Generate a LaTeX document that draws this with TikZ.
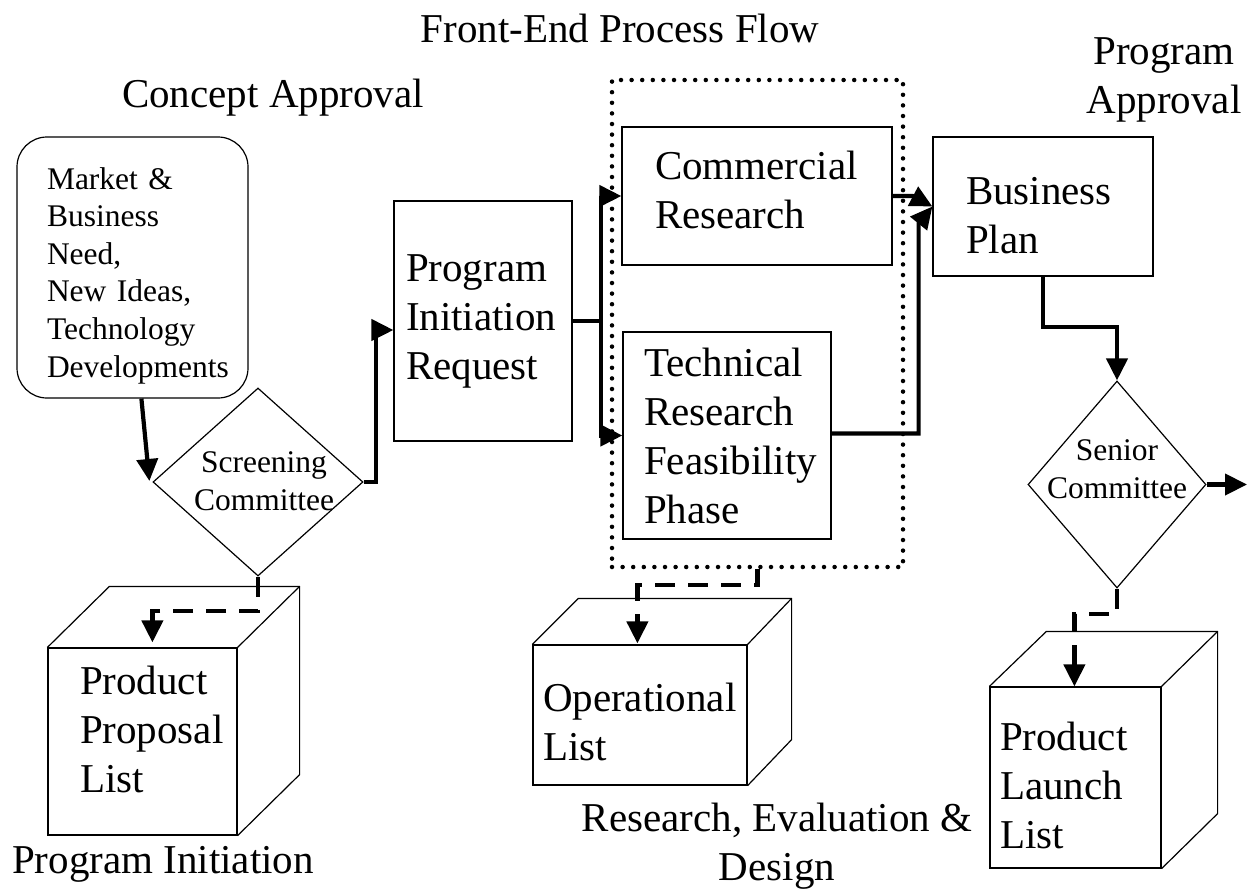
\documentclass[tikz,border=0pt]{standalone}
\usepackage{fontspec}
\setmainfont{Liberation Serif}
\usetikzlibrary{shapes.geometric,arrows.meta,calc}
\newcommand\bigf{\fontsize{41}{49}\selectfont}
\newcommand\smf{\fontsize{31.5}{37.6}\selectfont}
\newcommand\topst[1]{\rule{0pt}{#1pt}}
\newcommand\botst[1]{\rule[-#1pt]{0pt}{#1pt}}
\begin{document}
\begin{tikzpicture}[x=1pt,y=-1pt,
  box/.style={draw,line width=1.2pt,align=left,font=\bigf,inner ysep=0pt},
  dia/.style={draw,diamond,line width=1.2pt,inner sep=0pt},
  arr/.style={line width=4.2pt,-{Triangle[length=22pt,width=21pt]}},
  dasharr/.style={line width=4.2pt,dash pattern=on 20pt off 13pt,-{Triangle[length=22pt,width=21pt]}},
  plainline/.style={line width=4.2pt},
  edge/.style={line width=1.2pt,line join=round},
  lab/.style={font=\bigf,align=center},
  dottedbox/.style={draw,line width=4.5pt,line cap=round,dash pattern=on 0pt off 10.6pt,inner sep=0pt}]
\useasboundingbox (0,0) rectangle (1250,889);

% titles
\node[lab] (ttl) at (620,28) {Front-End Process Flow};
\node[lab] (ca) at (273,98) {Concept Approval};
\node[lab] (pa) at (1164,80) {Program\\Approval};
\node[lab] (pi) at (163,864) {Program Initiation};
\node[lab] (red) at (777,846) {Research, Evaluation \&\\Design};

% dotted group
\node[dottedbox,minimum width=291pt,minimum height=487pt] (grp) at (757.5,323.5) {};

% boxes
\node[box,rounded corners=30pt,font=\smf,minimum height=261pt,text width=171pt,inner xsep=30pt] (rb) at (132.5,267.5)
  {\topst{41}Market \&\\Business\\Need,\\New Ideas,\\Technology\\Developments\botst{10}};
\node[box,minimum height=240pt,text width=154pt,inner xsep=12pt] (pir) at (483,321)
  {Program\\Initiation\\Request};
\node[box,minimum height=138pt,text width=204pt,inner xsep=33pt] (com) at (757,196)
  {\topst{40}Commercial\\Research\botst{25}};
\node[box,minimum height=207pt,text width=166pt,inner xsep=21pt] (tec) at (727,435.5)
  {Technical\\Research\\Feasibility\\Phase};
\node[box,minimum height=139pt,text width=154pt,inner xsep=33pt] (bp) at (1043,206.5)
  {\topst{56}Business\\Plan\botst{12}};

% diamonds
\node[dia,minimum width=210pt,minimum height=188pt] (scr) at (258,482) {};
\node[font=\smf,align=center] (scrt) at (264,481) {Screening\\Committee};
\node[dia,minimum width=178pt,minimum height=207pt] (sen) at (1117,484.5) {};
\node[font=\smf,align=center] (sent) at (1117,469) {Senior\\Committee};

% cubes (front faces)
\node[box,minimum height=187pt,text width=125pt,inner xsep=32pt] (c1) at (142.5,741.5)
  {\topst{40}Product\\Proposal\\List\botst{36}};
\node[box,minimum height=140pt,text width=194pt,inner xsep=10pt] (c2) at (640,715)
  {\topst{54}Operational\\List\botst{12}};
\node[box,minimum height=181pt,text width=151pt,inner xsep=10pt] (c3) at (1075.5,777.5)
  {\topst{56}Product\\Launch\\List\botst{12}};

% cube tops and sides
\draw[edge] (c1.north west) -- ([shift={(62,-61)}]c1.north west) -- ([shift={(62,-61)}]c1.north east)
  -- ([shift={(62,-61)}]c1.south east) -- (c1.south east);
\draw[edge] (c1.north east) -- ([shift={(62,-61)}]c1.north east);
\draw[edge] (c2.north west) -- ([shift={(46,-46)}]c2.north west) -- ([shift={(44,-46)}]c2.north east)
  -- ([shift={(44,-46)}]c2.south east) -- (c2.south east);
\draw[edge] (c2.north east) -- ([shift={(44,-46)}]c2.north east);
\draw[edge] (c3.north west) -- ([shift={(57,-55)}]c3.north west) -- ([shift={(56,-55)}]c3.north east)
  -- ([shift={(56,-55)}]c3.south east) -- (c3.south east);
\draw[edge] (c3.north east) -- ([shift={(56,-55)}]c3.north east);

% connectors
\draw[arr] ([xshift=-11pt]scr.west |- rb.south) -- ([xshift=-3pt,yshift=1pt]scr.west);
\draw[arr] (scr.east) -- ++(12,0) |- ([yshift=-9pt]pir.west);
\draw[plainline] (pir.east) -- ++(28,0) coordinate (sp);
\draw[arr] (sp) |- (com.west);
\draw[arr] (sp) |- (tec.west);
\draw[arr] (com.east) -- ++(20,0) -- (bp.west);
\draw[arr] ([yshift=2pt]tec.east) -- ++(87,0) -- ++(0,-210) -- (bp.west);
\draw[arr] (bp.south) -- ++(0,50) -| (sen.north);
\coordinate (out) at (1247,484.5);
\draw[arr] (sen.east) -- (out);

% dashed connectors
\draw[dasharr] (scr.south) -- ++(0,34) -| ([xshift=105pt,yshift=5pt]c1.north west);
\draw[dasharr] (grp.south) -- ++(0,16) -| ([xshift=105pt,yshift=1pt]c2.north west);
\draw[dasharr] (sen.south) -- ++(0,25) -| ([xshift=85pt]c3.north west);
\end{tikzpicture}
\end{document}
